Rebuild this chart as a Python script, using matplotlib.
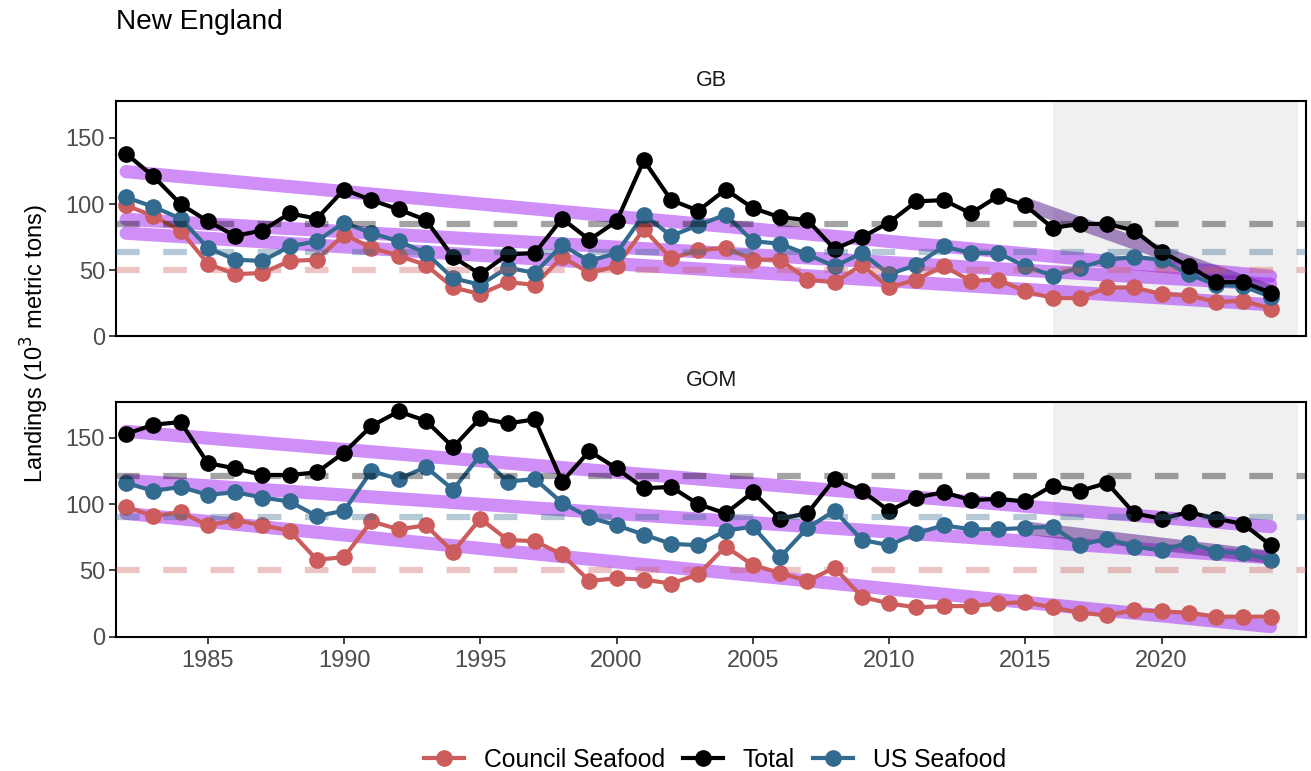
import numpy as np
import matplotlib.pyplot as plt
from matplotlib.lines import Line2D

plt.rcParams['font.family'] = ['Liberation Sans', 'DejaVu Sans']
plt.rcParams['lines.scale_dashes'] = False

years = np.arange(1982, 2025)

# GB landings (10^3 metric tons)
gb_total = [138, 121, 100, 87, 76, 80, 93, 89, 111, 103, 96, 88, 60, 47, 62,
            63, 89, 73, 87, 133, 103, 95, 111, 97, 90, 88, 66, 75, 86, 102,
            103, 93, 106, 99, 82, 85, 85, 80, 64, 53, 41, 41, 33]
gb_us = [105, 98, 89, 67, 58, 57, 68, 72, 86, 78, 72, 63, 44, 39, 52,
         48, 69, 57, 63, 92, 76, 84, 92, 72, 70, 62, 53, 63, 47, 54,
         68, 63, 63, 53, 46, 52, 58, 60, 58, 47, 39, 38, 30]
gb_council = [99, 91, 80, 55, 47, 48, 57, 58, 77, 67, 61, 54, 37, 32, 41,
              39, 60, 48, 53, 81, 59, 65, 67, 58, 58, 43, 41, 54, 37, 43,
              53, 42, 43, 34, 29, 29, 37, 37, 32, 31, 26, 27, 21]

# GOM landings (10^3 metric tons)
gom_total = [153, 160, 162, 131, 127, 122, 122, 124, 139, 159, 170, 163, 143, 165, 161,
             164, 117, 140, 127, 112, 113, 100, 93, 109, 89, 93, 119, 110, 95, 105,
             109, 103, 104, 102, 114, 110, 116, 93, 89, 94, 89, 85, 69]
gom_us = [116, 110, 113, 107, 109, 105, 102, 91, 95, 125, 119, 128, 111, 137, 117,
          119, 101, 90, 84, 77, 70, 69, 80, 83, 60, 82, 95, 73, 69, 78,
          84, 81, 81, 82, 83, 69, 74, 68, 65, 71, 64, 63, 58]
gom_council = [98, 91, 94, 84, 88, 84, 80, 58, 60, 87, 81, 84, 64, 89, 73,
               72, 62, 42, 44, 43, 40, 47, 68, 54, 48, 42, 52, 30, 25, 22,
               23, 23, 25, 26, 22, 18, 16, 20, 19, 18, 15, 15, 15]

# long-term mean reference levels
gb_means = {'Total': 85, 'US Seafood': 63.5, 'Council Seafood': 50.5}
gom_means = {'Total': 121, 'US Seafood': 90, 'Council Seafood': 50.5}

# fitted trend end points (1982, 2024)
gb_trends = {'Total': (124.5, 45.5), 'US Seafood': (88.5, 39.5), 'Council Seafood': (78, 24)}
gom_trends = {'Total': (155, 83), 'US Seafood': (118, 59.5), 'Council Seafood': (93, 7.5)}

# recent decade trend (2015, 2024)
recent_years = (2015, 2024)
gb_recent = ('Total', (100, 34))
gom_recent = ('US Seafood', (82, 60))

shade_years = (2016, 2025)

colors = {'Council Seafood': '#CD5C5C', 'Total': '#000000', 'US Seafood': '#336A90'}
order = ['Council Seafood', 'Total', 'US Seafood']


def draw_panel(ax, series, means, trends, recent, name):
    ax.axvspan(shade_years[0], shade_years[1], color='#F0F0F0', lw=0, zorder=0)
    for key in order:
        t0, t1 = trends[key]
        ax.plot([years[0], years[-1]], [t0, t1], color='#A020F0', alpha=0.5,
                lw=9.5, solid_capstyle='round', zorder=2)
    rkey, (r0, r1) = recent
    ax.plot(recent_years, [r0, r1], color='#551A8B', alpha=0.5, lw=9.5,
            solid_capstyle='butt', zorder=2)
    for key in ['Council Seafood', 'US Seafood', 'Total']:
        ax.plot(years, series[key], color=colors[key], lw=3, marker='o',
                markersize=11, zorder=3)
    for key in ['Total', 'US Seafood', 'Council Seafood']:
        ax.axhline(means[key], color=colors[key], alpha=0.36, lw=4.5,
                   dashes=(17, 17), zorder=4)
    ax.set_xlim(1981.63, 2025.3)
    ax.set_ylim(0, 177.5)
    ax.set_yticks([0, 50, 100, 150])
    ax.set_xticks([1985, 1990, 1995, 2000, 2005, 2010, 2015, 2020])
    ax.tick_params(axis='both', labelsize=17, labelcolor='#4D4D4D',
                   length=5, width=1.3, color='#333333', pad=3)
    ax.tick_params(axis='x', pad=5)
    for sp in ax.spines.values():
        sp.set_linewidth(1.5)
        sp.set_color('black')
    ax.set_title(name, fontsize=15.5, color='#1A1A1A', pad=11)


fig = plt.figure(figsize=(13.11, 7.71), dpi=100)
ax1 = fig.add_axes([0.0885, 0.5636, 0.9077, 0.3048])
ax2 = fig.add_axes([0.0885, 0.1744, 0.9077, 0.3048])

draw_panel(ax1, {'Total': gb_total, 'US Seafood': gb_us, 'Council Seafood': gb_council},
           gb_means, gb_trends, gb_recent, 'GB')
draw_panel(ax2, {'Total': gom_total, 'US Seafood': gom_us, 'Council Seafood': gom_council},
           gom_means, gom_trends, gom_recent, 'GOM')
ax1.tick_params(axis='x', labelbottom=False, length=0)

fig.text(0.0885, 1 - 9 / 771, 'New England', fontsize=20.2, ha='left', va='top')
fig.text(35 / 1311, 1 - 344 / 771, 'Landings (10$^3$ metric tons)', fontsize=17,
         rotation=90, ha='center', va='center')

handles = [Line2D([], [], color=colors[k], lw=3, marker='o', markersize=11) for k in order]
fig.legend(handles, order, loc='center', bbox_to_anchor=(715 / 1311, 1 - 760 / 771),
           ncol=3, frameon=False, fontsize=17.8, handlelength=1.6,
           columnspacing=0.75, handletextpad=0.8, borderpad=0, borderaxespad=0)

fig.savefig('out.png', dpi=100)
